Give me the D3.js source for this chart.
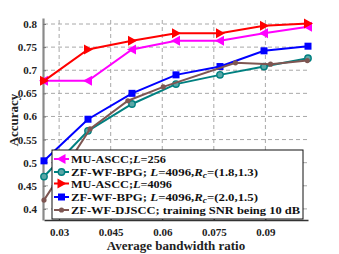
<!DOCTYPE html>
<html>
<head>
<meta charset="utf-8">
<script src="https://cdn.jsdelivr.net/npm/d3@7"></script>
<style>
  body { margin: 0; background: #fff; }
  text { font-family: "Liberation Serif", "Times New Roman", serif; font-weight: bold; }
</style>
</head>
<body>
<svg id="chart" width="339" height="254"></svg>
<script>
// bandwidth ratios used by the MU-ASCC / BPG runs
const xBase = [0.0256, 0.0384, 0.0512, 0.064, 0.0768, 0.0896, 0.1024];
const muAscc256 = [0.677, 0.677, 0.745, 0.764, 0.764, 0.780, 0.794];
const muAscc4096 = [0.677, 0.745, 0.764, 0.780, 0.780, 0.796, 0.801];
const bpg1813 = [0.470, 0.569, 0.627, 0.670, 0.690, 0.708, 0.726];
const bpg2015 = [0.504, 0.594, 0.650, 0.690, 0.708, 0.742, 0.752];
// DJSCC was sampled at its own ratios
const djsccX = [0.0256, 0.039, 0.050, 0.0603, 0.0813, 0.0915, 0.1022];
const djscc = [0.419, 0.573, 0.634, 0.664, 0.716, 0.713, 0.721];

const xTicks = [0.03, 0.045, 0.06, 0.075, 0.09];
const yTicks = [0.4, 0.45, 0.5, 0.55, 0.6, 0.65, 0.7, 0.75, 0.8];

var svg = d3.select("#chart");
var pLeft = 44, pRight = 308, pTop = 18, pBottom = 220;

var x = d3.scaleLinear().domain([0.0256, 0.1024]).range([pLeft, pRight]);
var y = d3.scaleLinear().domain([0.376, 0.813]).range([pBottom, pTop]);

// grid
var grid = svg.append("g").attr("stroke", "#a8a8a8").attr("stroke-width", 1).attr("stroke-dasharray", "4,3");
grid.selectAll(".gx").data(xTicks).enter().append("line")
  .attr("x1", d => x(d)).attr("x2", d => x(d)).attr("y1", pBottom).attr("y2", pTop);
grid.selectAll(".gy").data(yTicks).enter().append("line")
  .attr("x1", pLeft).attr("x2", pRight).attr("y1", d => y(d)).attr("y2", d => y(d));

// axes
var xAxis = d3.axisBottom(x).tickValues(xTicks).tickFormat(d3.format("")).tickSizeInner(-3).tickSizeOuter(0).tickPadding(8);
var gx = svg.append("g").attr("transform", "translate(0," + pBottom + ")").call(xAxis);
gx.select(".domain").attr("stroke", "#333").attr("stroke-width", 1.5);
gx.selectAll(".tick line").attr("stroke", "#333");
gx.selectAll("text").attr("font-size", 11).attr("fill", "#222").attr("font-family", null);

var yAxis = d3.axisLeft(y).tickValues(yTicks).tickFormat(d3.format("")).tickSizeInner(-3).tickSizeOuter(0).tickPadding(6);
var gy = svg.append("g").attr("transform", "translate(" + (pLeft - 1) + ",0)").call(yAxis);
gy.select(".domain").attr("stroke", "#8a8a8a").attr("stroke-width", 2.2);
gy.selectAll(".tick line").attr("stroke", "#777");
gy.selectAll("text").attr("font-size", 11).attr("fill", "#222").attr("font-family", null);

svg.append("text").attr("x", 176).attr("y", 250).attr("text-anchor", "middle")
  .attr("font-size", 13).attr("fill", "#222").text("Average bandwidth ratio");
svg.append("text").attr("transform", "translate(18,120) rotate(-90)").attr("text-anchor", "middle")
  .attr("font-size", 13).attr("fill", "#222").text("Accuracy");

// series
var series = [
  {xs: xBase, ys: muAscc256, color: "#ff00ff", marker: "tl"},
  {xs: xBase, ys: bpg1813, color: "#008080", marker: "circle"},
  {xs: xBase, ys: muAscc4096, color: "#ff0000", marker: "tr"},
  {xs: xBase, ys: bpg2015, color: "#0000ff", marker: "square"},
  {xs: djsccX, ys: djscc, color: "#7e5652", marker: "dot"}
];

function drawMarker(g, type, color, cx, cy) {
  if (type == "tl") {
    g.append("path").attr("d", "M" + (cx - 5) + "," + cy + "L" + (cx + 4) + "," + (cy - 5) + "L" + (cx + 4) + "," + (cy + 5) + "Z").attr("fill", color);
  } else if (type == "tr") {
    g.append("path").attr("d", "M" + (cx + 5) + "," + cy + "L" + (cx - 4) + "," + (cy - 5) + "L" + (cx - 4) + "," + (cy + 5) + "Z").attr("fill", color);
  } else if (type == "square") {
    g.append("rect").attr("x", cx - 3.5).attr("y", cy - 3.5).attr("width", 7).attr("height", 7).attr("fill", color);
  } else if (type == "circle") {
    g.append("circle").attr("cx", cx).attr("cy", cy).attr("r", 3.2).attr("fill", "#5aa7a7").attr("stroke", color).attr("stroke-width", 1.4);
  } else {
    g.append("circle").attr("cx", cx).attr("cy", cy).attr("r", 2.6).attr("fill", color);
  }
}

var line = d3.line().x(d => x(d[0])).y(d => y(d[1]));
var plot = svg.append("g");
series.forEach(function(s) {
  var pts = s.xs.map((v, i) => [v, s.ys[i]]);
  plot.append("path").attr("d", line(pts)).attr("fill", "none").attr("stroke", s.color).attr("stroke-width", 2);
  pts.forEach(p => drawMarker(plot, s.marker, s.color, x(p[0]), y(p[1])));
});

// legend
var legendRows = [
  [{t: "MU-ASCC;"}, {t: "L", i: true}, {t: "=256"}],
  [{t: "ZF-WF-BPG; "}, {t: "L", i: true}, {t: "=4096,"}, {t: "R", i: true}, {t: "c", i: true, sub: true}, {t: "=(1.8,1.3)", up: true}],
  [{t: "MU-ASCC;"}, {t: "L", i: true}, {t: "=4096"}],
  [{t: "ZF-WF-BPG; "}, {t: "L", i: true}, {t: "=4096,"}, {t: "R", i: true}, {t: "c", i: true, sub: true}, {t: "=(2.0,1.5)", up: true}],
  [{t: "ZF-WF-DJSCC; training SNR being 10 dB"}]
];
var rowWidths = [95, 187, 101, 187, 229];
var rowY = [159, 172, 183.5, 197, 210];

var lg = svg.append("g");
lg.append("rect").attr("x", 52).attr("y", 150).attr("width", 251).attr("height", 69)
  .attr("fill", "#fff").attr("stroke", "#111").attr("stroke-width", 1);
legendRows.forEach(function(row, i) {
  var s = series[i], cy = rowY[i];
  lg.append("line").attr("x1", 54).attr("x2", 69).attr("y1", cy).attr("y2", cy).attr("stroke", s.color).attr("stroke-width", 2);
  drawMarker(lg, s.marker, s.color, 61.5, cy);
  var t = lg.append("text").attr("x", 71).attr("y", cy + 4).attr("font-size", 11).attr("fill", "#111")
    .attr("textLength", rowWidths[i]).attr("lengthAdjust", "spacingAndGlyphs");
  row.forEach(function(p) {
    var sp = t.append("tspan").text(p.t);
    if (p.i) sp.attr("font-style", "italic");
    if (p.sub) sp.attr("font-size", 8).attr("dy", 2);
    if (p.up) sp.attr("dy", -2);
  });
});
</script>
</body>
</html>
